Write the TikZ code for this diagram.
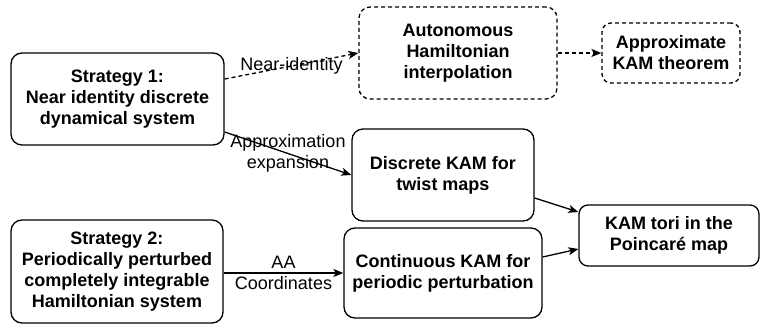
\documentclass[tikz,border=0pt]{standalone}
\usepackage{fontspec}
\setmainfont{Liberation Sans}
\usetikzlibrary{arrows.meta,positioning}

\tikzset{
  box/.style={draw, line width=1.3pt, rounded corners=11pt, align=center,
    inner sep=0pt, font=\fontsize{18}{21}\selectfont\bfseries},
  dashbox/.style={box, dash pattern=on 4pt off 3pt},
  link/.style={line width=1.3pt, -{Stealth[length=10pt,width=8pt,inset=2.5pt]}},
  dashlink/.style={link, dash pattern=on 4pt off 3pt},
  edgetext/.style={align=center, inner sep=0pt, font=\fontsize{18}{21}\selectfont}
}

\begin{document}
\begin{tikzpicture}[x=1pt,y=-1pt]
  \useasboundingbox (0,0) rectangle (761,325);

  % boxes
  \node[box, minimum width=213pt, minimum height=92pt] (s1) at (117.5,99)
    {Strategy 1:\\Near identity discrete\\dynamical system};
  \node[dashbox, minimum width=198pt, minimum height=92pt] (auto) at (458,53)
    {Autonomous\\Hamiltonian\\interpolation};
  \node[dashbox, minimum width=138pt, minimum height=60pt, rounded corners=9pt] (approx) at (671,53)
    {Approximate\\KAM theorem};
  \node[box, minimum width=182pt, minimum height=92pt] (disc) at (443,175)
    {Discrete KAM for\\twist maps};
  \node[box, minimum width=198pt, minimum height=90pt] (cont) at (443,273)
    {Continuous KAM for\\periodic perturbation};
  \node[box, minimum width=180pt, minimum height=61pt, rounded corners=9pt] (tori) at (669,235.5)
    {KAM tori in the\\Poincaré map};
  \node[box, minimum width=212pt, minimum height=103pt] (s2) at (117,271.5)
    {Strategy 2:\\Periodically perturbed\\completely integrable\\Hamiltonian system};

  % connectors
  \draw[dashlink] ([yshift=20pt]s1.east) -- (auto.west)
    node[edgetext, midway] (lnear) {Near-identity};
  \draw[dashlink] (auto.east) -- (approx.west);
  \draw[link] ([yshift=-33pt]s1.east) -- (disc.west)
    node[edgetext, midway] (lexp) {Approximation\\expansion};
  \draw[link] ([yshift=-23pt]disc.east) -- ([yshift=23.5pt]tori.west);
  \draw[link] ([yshift=16pt]cont.east) -- ([yshift=-13.5pt]tori.west);
  \draw[link] (s2.east |- cont.west) -- (cont.west)
    node[edgetext, midway] (laa) {AA\\Coordinates};
\end{tikzpicture}
\end{document}
